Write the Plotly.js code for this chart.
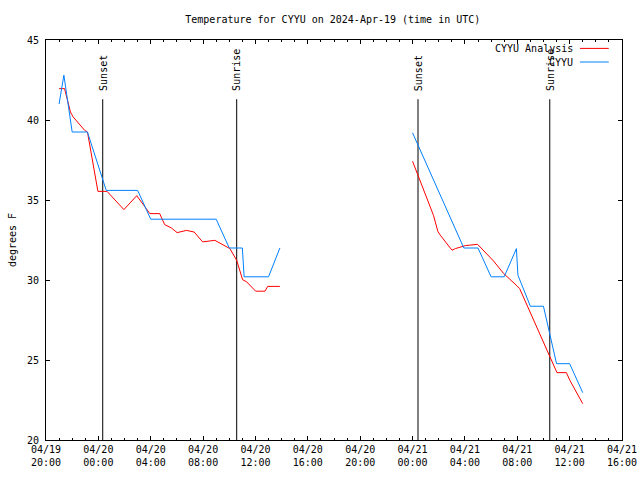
<!DOCTYPE html>
<html>
<head>
<meta charset="utf-8">
<script src="https://cdn.plot.ly/plotly-3.0.1.min.js"></script>
<style>html,body{margin:0;padding:0;background:#fff;}#chart{width:640px;height:480px;}</style>
</head>
<body>
<div id="chart"></div>
<script>
// ---- Data ----
const analysisTimes1 = ["2024-04-19 21:00","2024-04-19 21:25","2024-04-19 21:52","2024-04-19 22:04","2024-04-19 22:57","2024-04-19 23:10","2024-04-19 23:58","2024-04-20 00:40","2024-04-20 01:57","2024-04-20 02:56","2024-04-20 03:56","2024-04-20 04:41","2024-04-20 05:04","2024-04-20 05:35","2024-04-20 06:01","2024-04-20 06:44","2024-04-20 07:19","2024-04-20 07:58","2024-04-20 08:54","2024-04-20 10:03","2024-04-20 10:34","2024-04-20 11:01","2024-04-20 11:20","2024-04-20 12:01","2024-04-20 12:44","2024-04-20 12:56","2024-04-20 13:52"];
const analysisTemps1 = [41.96,41.96,40.5,40.2,39.36,39.25,35.54,35.54,34.4,35.27,34.15,34.15,33.46,33.25,32.96,33.1,33.0,32.38,32.48,31.96,31.23,30.02,29.88,29.3,29.3,29.6,29.6];
const analysisTimes2 = ["2024-04-21 00:00","2024-04-21 01:36","2024-04-21 01:56","2024-04-21 02:07","2024-04-21 03:01","2024-04-21 03:16","2024-04-21 04:02","2024-04-21 04:58","2024-04-21 06:11","2024-04-21 06:58","2024-04-21 07:59","2024-04-21 08:11","2024-04-21 11:02","2024-04-21 11:45","2024-04-21 12:01","2024-04-21 13:00"];
const analysisTemps2 = [37.42,34.04,33.04,32.8,31.86,31.96,32.15,32.23,31.19,30.4,29.63,29.46,24.21,24.21,23.73,22.27];

const obsTimes1 = ["2024-04-19 21:00","2024-04-19 21:22","2024-04-19 22:00","2024-04-19 23:10","2024-04-20 00:36","2024-04-20 03:00","2024-04-20 04:00","2024-04-20 09:00","2024-04-20 10:00","2024-04-20 11:00","2024-04-20 11:08","2024-04-20 13:00","2024-04-20 13:52"];
const obsTemps1 = [41.0,42.8,39.25,39.25,35.6,35.6,33.8,33.8,32.0,32.0,30.2,30.2,32.0];
const obsTimes2 = ["2024-04-21 00:00","2024-04-21 03:55","2024-04-21 05:00","2024-04-21 06:00","2024-04-21 07:00","2024-04-21 07:56","2024-04-21 08:03","2024-04-21 09:00","2024-04-21 10:00","2024-04-21 11:00","2024-04-21 12:00","2024-04-21 13:00"];
const obsTemps2 = [39.2,32.0,32.0,30.2,30.2,31.96,30.3,28.36,28.36,24.77,24.77,22.96];

const eventTimes = ["2024-04-20 00:20","2024-04-20 10:34","2024-04-21 00:25","2024-04-21 10:29"];
const eventLabels = ["Sunset","Sunrise","Sunset","Sunrise"];
const eventTop = 41.3;

const seriesNames = ["CYYU Analysis","CYYU"];
const seriesColors = ["#ff0000","#0080ff"];

const xStart = "2024-04-19 20:00";
const xEnd = "2024-04-21 16:00";
const yMin = 20, yMax = 45;

// ---- Build traces ----
const FONT = "DejaVu Sans Mono, Liberation Mono, monospace";
const evX = [], evY = [];
eventTimes.forEach(t => { evX.push(t, t, null); evY.push(yMin, eventTop, null); });

const traces = [
  {x: evX, y: evY, mode: "lines", line: {color: "#000", width: 1}, hoverinfo: "skip", showlegend: false},
  {x: analysisTimes1.concat([null], analysisTimes2), y: analysisTemps1.concat([null], analysisTemps2),
   mode: "lines", name: seriesNames[0], line: {color: seriesColors[0], width: 1}, connectgaps: false, showlegend: false},
  {x: obsTimes1.concat([null], obsTimes2), y: obsTemps1.concat([null], obsTemps2),
   mode: "lines", name: seriesNames[1], line: {color: seriesColors[1], width: 1}, connectgaps: false, showlegend: false}
];

const annotations = eventTimes.map((t, i) => ({
  x: t, y: eventTop, xref: "x", yref: "y", text: eventLabels[i], textangle: -90,
  showarrow: false, xanchor: "center", yanchor: "bottom", yshift: 6,
  font: {family: FONT, size: 10, color: "#000"}
}));

// legend key (text right of which a line sample sits)
const legY = [0.979, 0.945];
const shapes = [];
seriesNames.forEach((n, i) => {
  annotations.push({x: 0.918, y: legY[i], xref: "paper", yref: "paper", text: n, showarrow: false,
    xanchor: "right", yanchor: "middle", font: {family: FONT, size: 10, color: "#000"}});
  shapes.push({type: "line", xref: "paper", yref: "paper", x0: 0.927, x1: 0.977, y0: legY[i], y1: legY[i],
    line: {color: seriesColors[i], width: 1}});
});

const layout = {
  width: 640, height: 480,
  margin: {l: 46, r: 18, t: 40, b: 40, pad: 0},
  paper_bgcolor: "#fff", plot_bgcolor: "#fff",
  showlegend: false,
  font: {family: FONT, size: 10, color: "#000"},
  title: {text: "Temperature for CYYU on 2024-Apr-19 (time in UTC)", x: 0.52, xanchor: "center", y: 0.96, yanchor: "middle",
          font: {family: FONT, size: 10, color: "#000"}},
  xaxis: {
    type: "date", range: [xStart, xEnd], dtick: 4 * 3600000, tick0: xStart,
    tickformat: "%m/%d<br>%H:%M", ticks: "inside", ticklen: 4, tickcolor: "#000", tickwidth: 1,
    minor: {dtick: 3600000, ticks: "inside", ticklen: 2, tickcolor: "#000", showgrid: false},
    showline: true, linecolor: "#000", linewidth: 1, mirror: "ticks", showgrid: false, zeroline: false,
    tickfont: {family: FONT, size: 10, color: "#000"}, fixedrange: true
  },
  yaxis: {
    range: [yMin, yMax], dtick: 5, tick0: 20, ticks: "inside", ticklen: 4, tickcolor: "#000", tickwidth: 1,
    showline: true, linecolor: "#000", linewidth: 1, mirror: "ticks", showgrid: false, zeroline: false,
    tickfont: {family: FONT, size: 10, color: "#000"}, ticklabelstandoff: 4,
    title: {text: "degrees F", standoff: 8, font: {family: FONT, size: 10, color: "#000"}}, fixedrange: true
  },
  annotations: annotations,
  shapes: shapes
};

Plotly.newPlot("chart", traces, layout, {staticPlot: true, displayModeBar: false});
</script>
</body>
</html>
